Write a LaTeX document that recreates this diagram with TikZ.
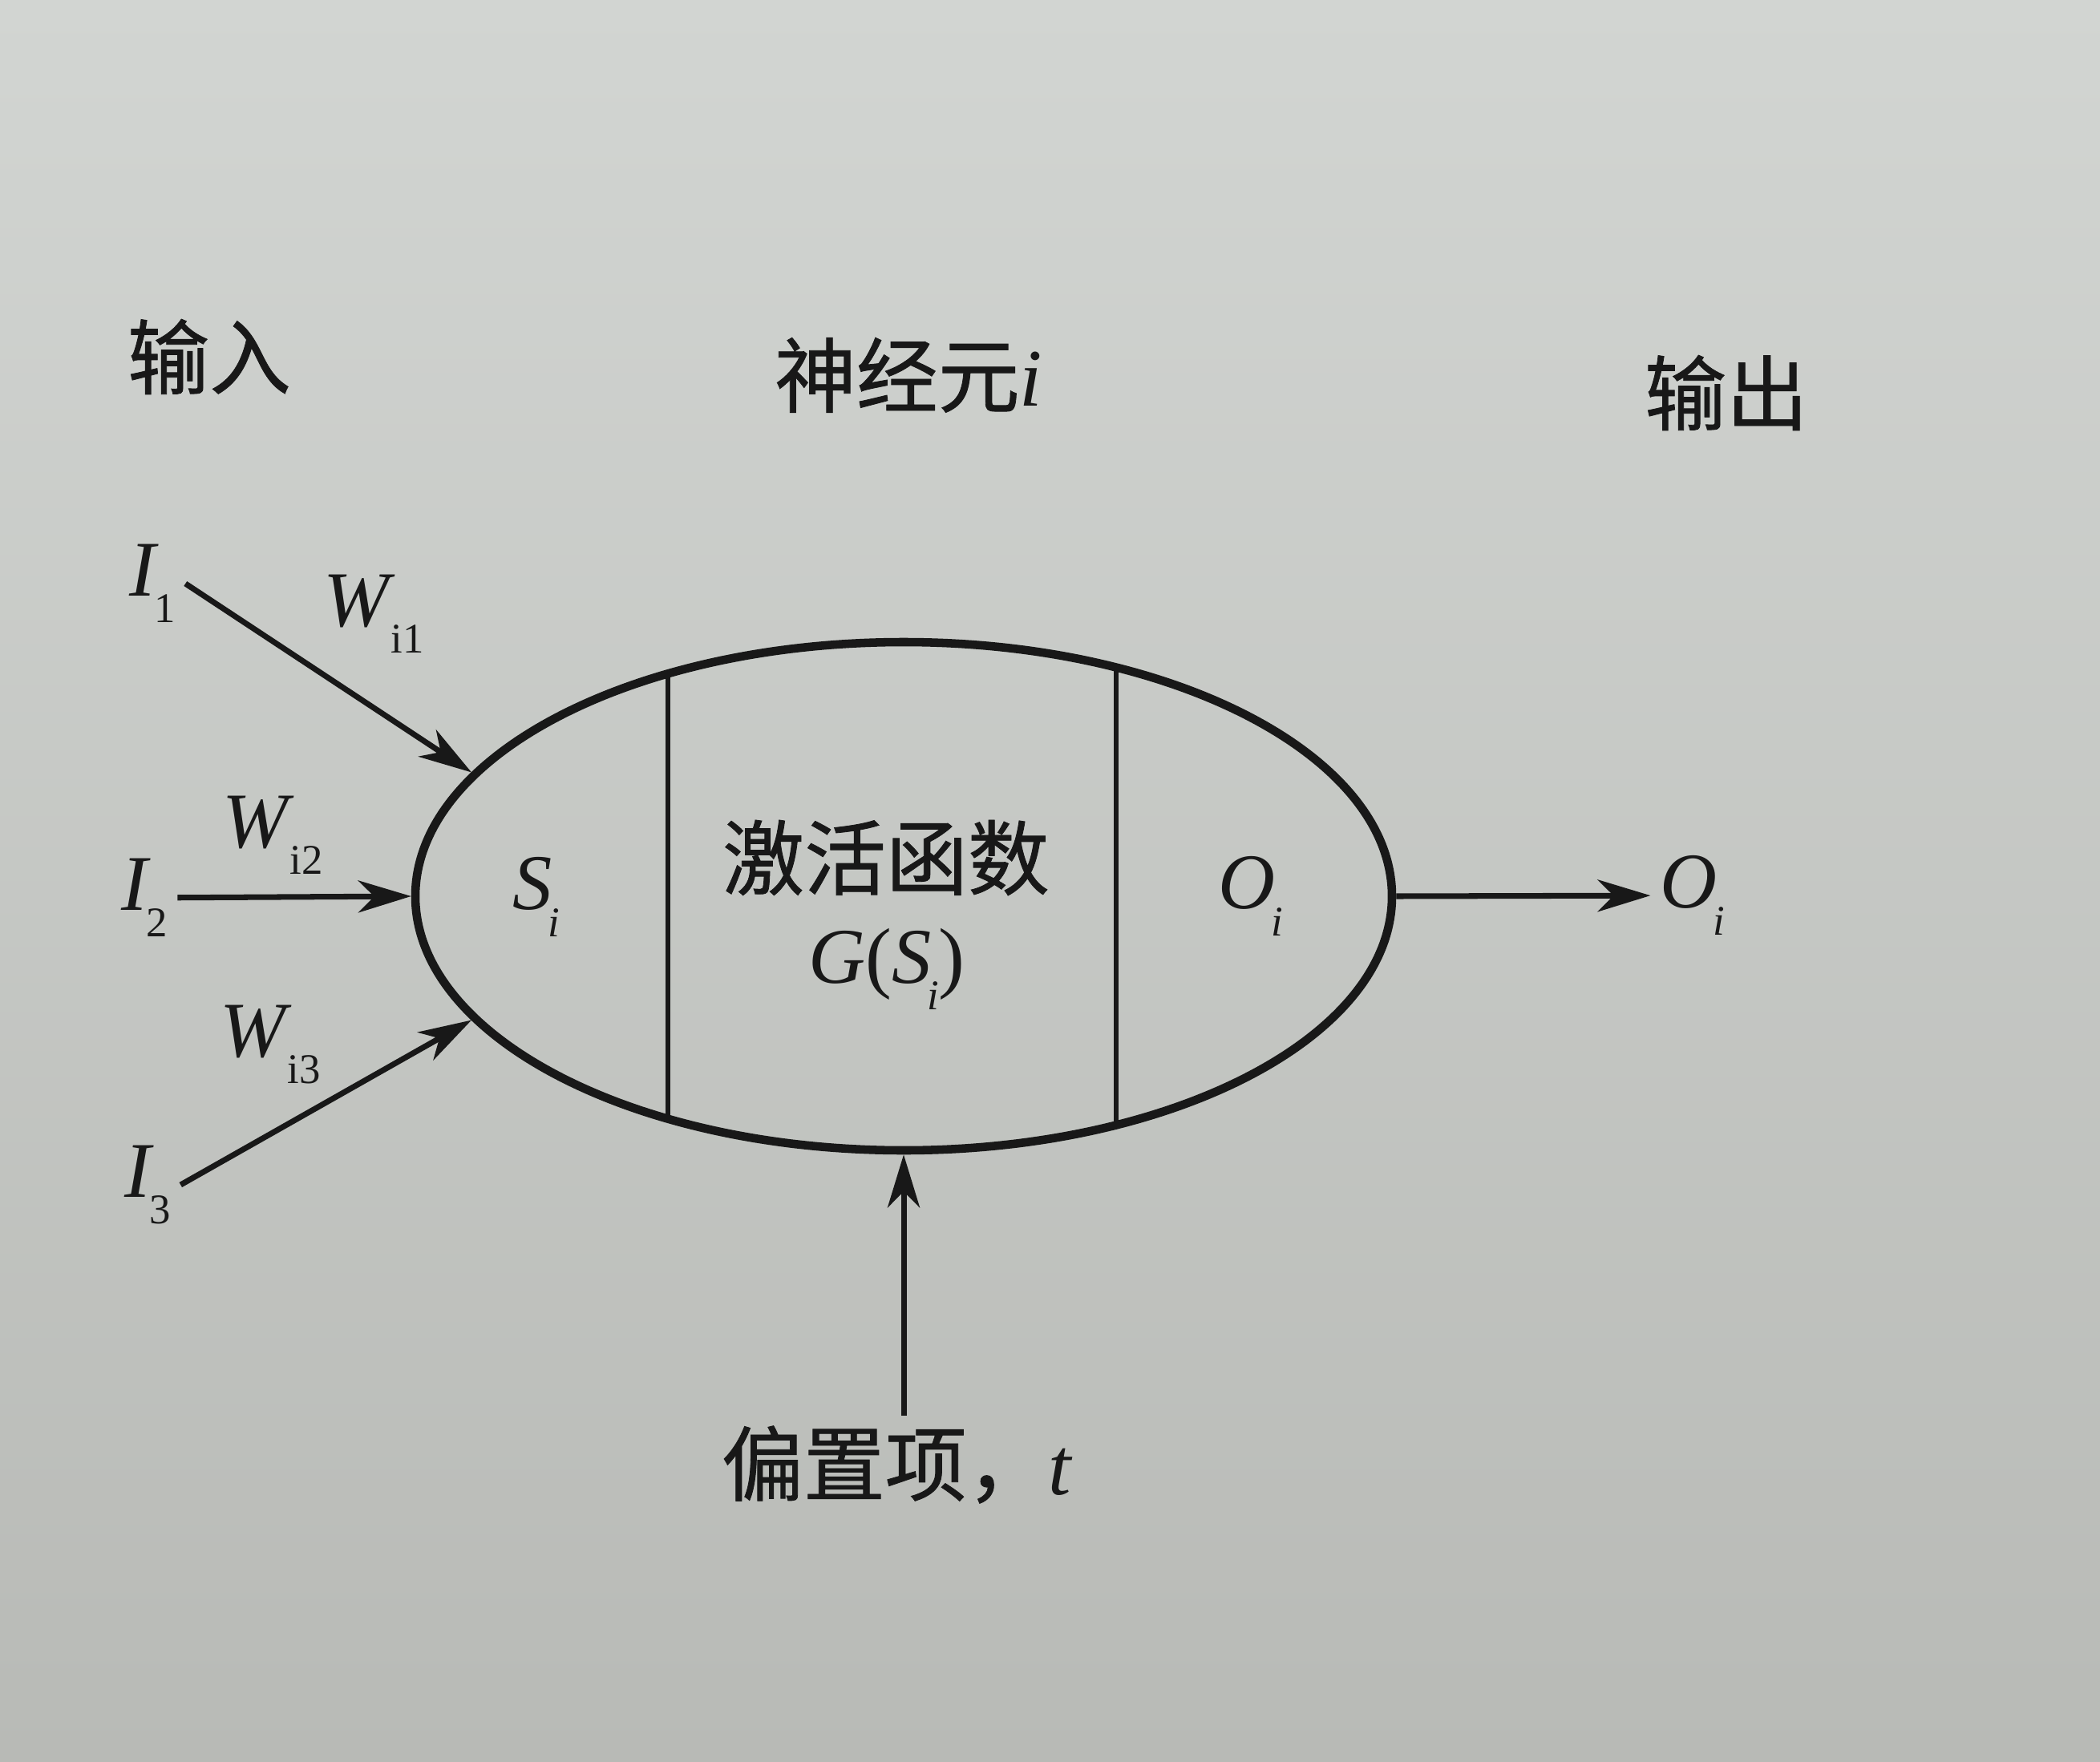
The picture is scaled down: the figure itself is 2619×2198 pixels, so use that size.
\documentclass[tikz,border=0pt]{standalone}
\usepackage{fontspec}
\setmainfont{Liberation Serif}
\newfontfamily\cjk[FakeBold=0.8]{Noto Sans CJK SC}
\usetikzlibrary{arrows.meta,shapes.geometric}
\definecolor{ink}{RGB}{24,24,24}
\definecolor{paperTop}{RGB}{210,213,210}
\definecolor{paperBot}{RGB}{184,186,182}
\tikzset{>={Stealth[length=6.6mm,width=4mm,inset=2mm]}}
\newcommand{\lbl}[2]{\textit{#1}\kern-1.5pt\raisebox{-0.34em}{\fontsize{15}{15}\selectfont #2}}

\begin{document}
\begin{tikzpicture}[x=0.1mm,y=-0.1mm,
    zh/.style={font=\cjk\fontsize{29}{34}\selectfont,text=ink},
    var/.style={font=\fontsize{28}{32}\selectfont,text=ink},
    wire/.style={->,draw=ink,line width=2pt}]
  \shade[top color=paperTop,bottom color=paperBot] (0,0) rectangle (2619,2198);
  % headings
  \node[zh] (inlabel) at (261,445) {输入};
  \node[zh] (neuron) at (1133,468) {神经元{\rmfamily\itshape i}};
  \node[zh] (outlabel) at (2153,490) {输出};
  % inputs and weights
  \node[var] (i1) at (190,728) {\lbl{I}{1}};
  \node[var] (i2) at (180,1120) {\lbl{I}{2}};
  \node[var] (i3) at (184,1478) {\lbl{I}{3}};
  \node[var] (w1) at (466,766) {\lbl{W}{i1}};
  \node[var] (w2) at (340,1042) {\lbl{W}{i2}};
  \node[var] (w3) at (337,1303) {\lbl{W}{i3}};
  % the neuron
  \begin{scope}
    \clip (1127,1118) ellipse [x radius=609,y radius=317];
    \draw[ink,line width=1.6pt] (833,700) -- (833,1500);
    \draw[ink,line width=1.6pt] (1392,700) -- (1392,1500);
  \end{scope}
  \node[ellipse,draw=ink,line width=3pt,minimum width=12.18cm,
        minimum height=6.34cm,inner sep=0pt] (cell) at (1127,1118) {};
  \node[var] (si) at (669,1119) {\lbl{S}{\textit{i}}};
  \node[zh] (act) at (1105,1070) {激活函数};
  \node[var] (gs) at (1106,1209) {\textit{G}(\lbl{S}{\textit{i}})};
  \node[var] (oi) at (1560,1118) {\lbl{O}{\textit{i}}};
  % output and bias
  \node[var] (oout) at (2111,1117) {\lbl{O}{\textit{i}}};
  \node[zh] (bias) at (1118,1827) {偏置项，{\rmfamily\itshape t}};
  \draw[wire] (i1.east) -- (cell.164);
  \draw[wire] (i2) -- (cell.west);
  \draw[wire] (i3.east) -- (cell.196);
  \draw[wire] (cell.east) -- (oout);
  \draw[wire] (cell.south |- bias.north) -- (cell.south);
\end{tikzpicture}
\end{document}
